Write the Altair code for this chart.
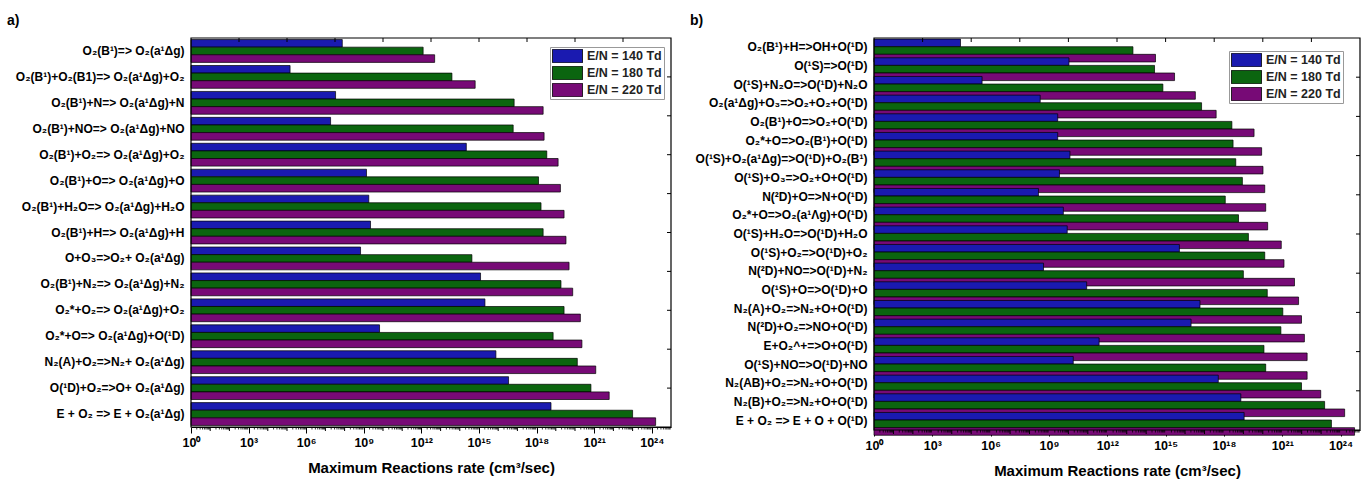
import altair as alt
import pandas as pd

series = ["E/N = 140 Td", "E/N = 180 Td", "E/N = 220 Td"]
colors = ["#1A1AB0", "#0B650F", "#770A76"]

# ---- panel a) ----
reactions_a = [
    "O₂(B¹)=> O₂(a¹Δg)",
    "O₂(B¹)+O₂(B1)=> O₂(a¹Δg)+O₂",
    "O₂(B¹)+N=> O₂(a¹Δg)+N",
    "O₂(B¹)+NO=> O₂(a¹Δg)+NO",
    "O₂(B¹)+O₂=> O₂(a¹Δg)+O₂",
    "O₂(B¹)+O=> O₂(a¹Δg)+O",
    "O₂(B¹)+H₂O=> O₂(a¹Δg)+H₂O",
    "O₂(B¹)+H=> O₂(a¹Δg)+H",
    "O+O₃=>O₂+ O₂(a¹Δg)",
    "O₂(B¹)+N₂=> O₂(a¹Δg)+N₂",
    "O₂*+O₂=> O₂(a¹Δg)+O₂",
    "O₂*+O=> O₂(a¹Δg)+O(¹D)",
    "N₂(A)+O₂=>N₂+ O₂(a¹Δg)",
    "O(¹D)+O₂=>O+ O₂(a¹Δg)",
    "E + O₂ => E +  O₂(a¹Δg)",
]
# log10 of the maximum reaction rate
a_140 = [7.88, 5.16, 7.53, 7.27, 14.34, 9.14, 9.26, 9.35, 8.83, 15.08, 15.31, 9.82, 15.88, 16.54, 18.75]
a_180 = [12.09, 13.59, 16.83, 16.78, 18.53, 18.10, 18.23, 18.34, 14.63, 19.27, 19.43, 18.86, 20.12, 20.83, 23.00]
a_220 = [12.69, 14.80, 18.34, 18.39, 19.12, 19.24, 19.43, 19.53, 19.69, 19.88, 20.28, 20.36, 21.08, 21.78, 24.20]

# ---- panel b) ----
reactions_b = [
    "O₂(B¹)+H=>OH+O(¹D)",
    "O(¹S)=>O(¹D)",
    "O(¹S)+N₂O=>O(¹D)+N₂O",
    "O₂(a¹Δg)+O₃=>O₂+O₂+O(¹D)",
    "O₂(B¹)+O=>O₂+O(¹D)",
    "O₂*+O=>O₂(B¹)+O(¹D)",
    "O(¹S)+O₂(a¹Δg)=>O(¹D)+O₂(B¹)",
    "O(¹S)+O₃=>O₂+O+O(¹D)",
    "N(²D)+O=>N+O(¹D)",
    "O₂*+O=>O₂(a¹Λg)+O(¹D)",
    "O(¹S)+H₂O=>O(¹D)+H₂O",
    "O(¹S)+O₂=>O(¹D)+O₂",
    "N(²D)+NO=>O(¹D)+N₂",
    "O(¹S)+O=>O(¹D)+O",
    "N₂(A)+O₂=>N₂+O+O(¹D)",
    "N(²D)+O₂=>NO+O(¹D)",
    "E+O₂^+=>O+O(¹D)",
    "O(¹S)+NO=>O(¹D)+NO",
    "N₂(AB)+O₂=>N₂+O+O(¹D)",
    "N₂(B)+O₂=>N₂+O+O(¹D)",
    "E + O₂ => E + O + O(¹D)",
]
b_140 = [4.45, 10.03, 5.56, 8.55, 9.45, 9.45, 10.08, 9.54, 8.46, 9.74, 9.94, 15.71, 8.72, 10.94, 16.77, 16.31, 11.58, 10.25, 17.71, 18.87, 19.04]
b_180 = [13.32, 14.43, 14.86, 16.85, 18.41, 18.47, 18.61, 18.95, 18.07, 18.75, 19.26, 20.10, 19.00, 20.23, 21.03, 20.93, 20.06, 20.15, 21.99, 23.18, 23.53]
b_220 = [14.48, 15.46, 16.53, 17.60, 19.55, 19.94, 20.01, 20.10, 20.15, 20.25, 20.95, 21.09, 21.63, 21.84, 21.99, 22.14, 22.28, 22.28, 22.98, 24.21, 24.72]

major_ticks = [1e0, 1e3, 1e6, 1e9, 1e12, 1e15, 1e18, 1e21, 1e24]
tick_labels = ["10⁰", "10³", "10⁶", "10⁹", "10¹²", "10¹⁵", "10¹⁸", "10²¹", "10²⁴"]

FONT = "Liberation Sans"


def table(reactions, cols):
    rows = []
    for i, r in enumerate(reactions):
        for s, col in zip(series, cols):
            rows.append({"reaction": r, "series": s, "value": 10 ** col[i]})
    return pd.DataFrame(rows)


label_expr = "[" + ",".join("'%s'" % t for t in tick_labels) + "][round(log(datum.value)/LN10/3)]"

decade_minor = pd.DataFrame({"v": [10.0 ** d for d in range(1, 25) if d % 3]})
sub_minor = pd.DataFrame({"v": [k * 10.0 ** d for d in range(25) for k in range(2, 10)]})
frame_ticks = pd.DataFrame({"u": list(range(1, 10))})
frame_row = pd.DataFrame({"f": [0]})


def panel(title, reactions, cols, W, H, lx, ly):
    df = table(reactions, cols)
    xs = alt.Scale(type="log", domain=[1, 1e25], nice=False)
    bars = alt.Chart(df).mark_bar(stroke="black", strokeWidth=0.7).encode(
        x=alt.X(
            "value:Q",
            scale=xs,
            stack=None,
            axis=alt.Axis(
                values=major_ticks,
                labelExpr=label_expr,
                title="Maximum Reactions rate (cm³/sec)",
                titleFontSize=15,
                titleFontWeight="bold",
                titleFont=FONT,
                titleColor="black",
                titlePadding=12,
                labelFont=FONT,
                labelFontSize=12.5,
                labelFontWeight="bold",
                labelColor="black",
                labelPadding=3,
                labelFlush=False,
                tickSize=6,
                tickColor="black",
                tickWidth=1,
                domainColor="black",
                grid=False,
            ),
        ),
        y=alt.Y(
            "reaction:N",
            sort=reactions,
            scale=alt.Scale(paddingInner=0.12, paddingOuter=0.06),
            axis=alt.Axis(
                title=None,
                ticks=False,
                domain=False,
                labelFont=FONT,
                labelFontSize=12,
                labelFontWeight="bold",
                labelColor="black",
                labelLimit=400,
                labelPadding=7,
                minExtent=185,
                maxExtent=185,
            ),
        ),
        yOffset=alt.YOffset("series:N", sort=series),
        color=alt.Color(
            "series:N",
            sort=series,
            scale=alt.Scale(domain=series, range=colors),
            legend=alt.Legend(
                title=None,
                orient="none",
                legendX=lx,
                legendY=ly,
                symbolType="M-1,-0.45H1V0.45H-1Z",
                symbolSize=900,
                symbolStrokeColor="black",
                symbolStrokeWidth=0.8,
                symbolOpacity=1,
                labelFont=FONT,
                labelFontSize=12.5,
                labelFontWeight="bold",
                labelColor="#222222",
                labelOffset=4,
                strokeColor="#999999",
                fillColor="white",
                padding=2,
                rowPadding=3,
                clipHeight=14,
            ),
        ),
    )
    m1 = alt.Chart(decade_minor).mark_rule(color="black", strokeWidth=1).encode(
        x=alt.X("v:Q", scale=xs, axis=None), y=alt.value(H), y2=alt.value(H + 4)
    )
    m2 = alt.Chart(sub_minor).mark_rule(color="black", strokeWidth=0.8).encode(
        x=alt.X("v:Q", scale=xs, axis=None), y=alt.value(H), y2=alt.value(H + 2.5)
    )
    top = alt.Chart(frame_ticks).mark_rule(color="black", strokeWidth=1).encode(
        x=alt.X("u:Q", scale=alt.Scale(domain=[0, 10]), axis=None),
        y=alt.value(0),
        y2=alt.value(4),
    )
    right = alt.Chart(frame_ticks).mark_rule(color="black", strokeWidth=1).encode(
        y=alt.Y("u:Q", scale=alt.Scale(domain=[0, 10]), axis=None),
        x=alt.value(W),
        x2=alt.value(W - 4),
    )
    frame = alt.Chart(frame_row).mark_rect(
        fillOpacity=0, stroke="black", strokeWidth=1.2
    ).encode(x=alt.value(0), x2=alt.value(W), y=alt.value(0), y2=alt.value(H))
    return (
        alt.layer(bars, m1, m2, top, right, frame)
        .resolve_scale(x="independent", y="independent")
        .properties(
            width=W,
            height=H,
            title=alt.Title(
                title, anchor="start", fontSize=14, fontWeight="bold", font=FONT,
                color="black", offset=9, dx=1
            ),
        )
    )


pa = panel("a)", reactions_a, [a_140, a_180, a_220], 480, 389, 359, 9)
pb = panel("b)", reactions_b, [b_140, b_180, b_220], 486, 392, 355, 13)

chart = (
    alt.hconcat(pa, pb, spacing=17)
    .resolve_scale(color="independent")
    .properties(padding={"left": 6, "top": 14, "right": 0, "bottom": 0}, background="white")
    .configure_view(strokeWidth=0)
)

chart.save("out.html", embed_options={"renderer": "svg", "actions": False})
